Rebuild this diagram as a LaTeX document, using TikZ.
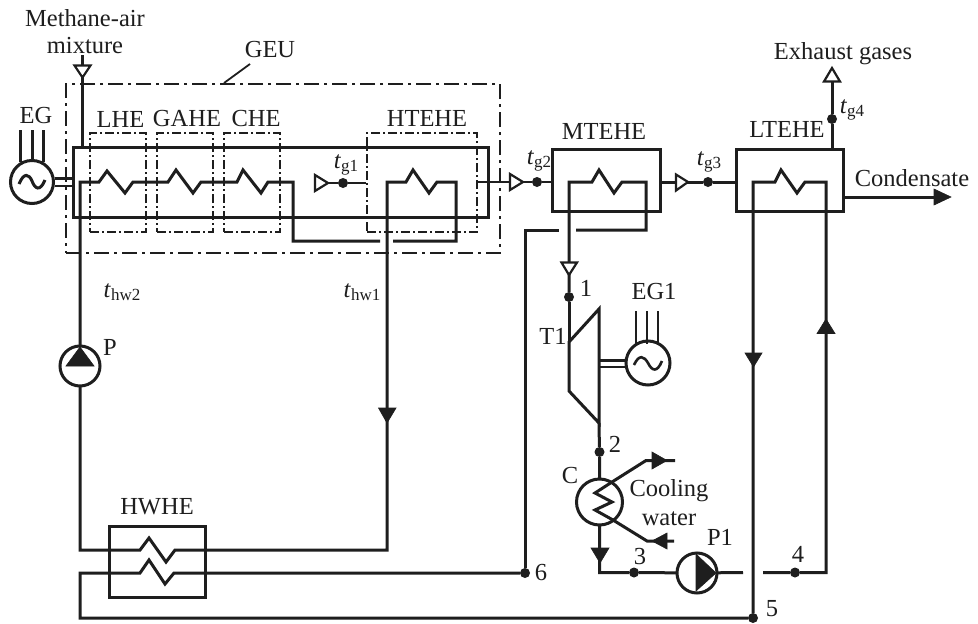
\documentclass[tikz,border=0pt]{standalone}
\usepackage{fontspec}
\setmainfont{Liberation Serif}
\newcommand\tsb[1]{\textit{t}\raisebox{-3.5pt}{\fontsize{17}{17}\selectfont #1}}
\tikzset{
  pipe/.style={line width=3pt,draw=ink,line join=miter},
  boxnode/.style={draw=ink,line width=3pt,fill=none,rectangle,inner sep=0pt},
  ddbox/.style={draw=ink,line width=1.5pt,rectangle,inner sep=0pt,dash pattern=on 9pt off 3pt on 2pt off 3pt},
  gebox/.style={draw=ink,line width=2pt,rectangle,inner sep=0pt,dash pattern=on 15pt off 5pt on 3pt off 5pt},
  dotn/.style={circle,fill=ink,draw=none,minimum size=10pt,inner sep=0pt},
  wheel/.style={circle,draw=ink,line width=3pt,fill=white,inner sep=0pt},
  lab/.style={inner sep=0pt,text=ink,font=\fontsize{24.5}{24.5}\selectfont},
  otri/.style={draw=ink,line width=2.2pt,fill=white,line join=miter},
  stri/.style={draw=ink,line width=0.6pt,fill=ink,line join=miter},
}
\definecolor{ink}{HTML}{1E1E1E}
\begin{document}
\begin{tikzpicture}[x=1pt,y=-1pt]
\useasboundingbox (0,0) rectangle (978,624);
\fill[white] (0,0) rectangle (978,624);
% named points
\node[gebox,minimum width=434pt,minimum height=169pt] (geu) at (283,168.5) {};
\node[boxnode,minimum width=415pt,minimum height=70pt] (mainb) at (280.5,182) {};
\node[boxnode,minimum width=108pt,minimum height=62pt] (mte) at (606,180) {};
\node[boxnode,minimum width=107pt,minimum height=62pt] (lte) at (789.5,180) {};
\node[boxnode,minimum width=96pt,minimum height=71pt] (hwb) at (157,561.5) {};
\node[ddbox,minimum width=56pt,minimum height=99pt] (lheb) at (118,182.5) {};
\node[ddbox,minimum width=56pt,minimum height=99pt] (gaheb) at (185,182.5) {};
\node[ddbox,minimum width=56pt,minimum height=99pt] (cheb) at (252,182.5) {};
\node[ddbox,minimum width=110pt,minimum height=99pt] (hteb) at (422,182.5) {};
\coordinate (geul) at (250,64);
\draw[line width=1.8pt,draw=ink] (geul) -- (224,83);
% dots
\node[dotn] (dg1) at (343,183) {};
\node[dotn] (dg2) at (537,182) {};
\node[dotn] (dg3) at (708,182) {};
\node[dotn] (dg4) at (832,119) {};
\node[dotn] (d1) at (569,297) {};
\node[dotn] (d2) at (599.5,452) {};
\node[dotn] (d3) at (634,572.5) {};
\node[dotn] (d4) at (795,572.5) {};
\node[dotn] (d5) at (753,618) {};
\node[dotn] (d6) at (525,573) {};
% machine positions
\coordinate (pc) at (80,366);
\coordinate (p1c) at (697,573);
\coordinate (cc) at (599.5,502);
% methane
\coordinate (mtop) at (82,55);
\draw[pipe] (mtop) -- (82,147);
\draw[otri] (74.5,65.5) -- (90.5,65.5) -- (82.5,77.5) -- cycle;
% gas line
\draw[pipe,line width=2.4pt] (316,183) -- (dg1) -- (366,183);
\draw[otri] (315,175) -- (315,191) -- (328,183) -- cycle;
\draw[pipe,line width=2.4pt] (hteb.east |- 0,182) -- (dg2) -- (mte.west |- 0,182);
\draw[otri] (510,174) -- (510,190) -- (523,182) -- cycle;
\draw[pipe] (mte.east |- 0,182) -- (dg3) -- (lte.west |- 0,182);
\draw[otri] (676,174.5) -- (676,190.5) -- (688,182) -- cycle;
% exhaust
\coordinate (extop) at (832,82);
\draw[pipe] (lte.north -| 832,0) -- (dg4) -- (extop);
\draw[otri] (824,81.5) -- (840,81.5) -- (832,68) -- cycle;
% condensate
\coordinate (condtip) at (936,197);
\draw[pipe] (843,197) -- (condtip);
\draw[stri] (934,189) -- (934,205) -- (951,197) -- cycle;
% hot-water coil in GEU
\draw[pipe] (pc) -- (80,182) -- (99,182) -- (107,171) -- (125,193) -- (133,182) -- (168,182) -- (176,170)
  -- (193,193) -- (201,182) -- (237,182) -- (243,170) -- (261,193) -- (268,182) -- (293,182) -- (293,241) -- (380,241);
\draw[pipe] (393,241) -- (456,241) -- (456,182) -- (437,182) -- (429,193) -- (413,170) -- (406,182) -- (387,182) -- (387,550)
  -- (175,550) -- (166,562) -- (149,538) -- (140,550) -- (80,550) -- (pc);
% HWHE lower coil and lines
\draw[pipe] (d5) -- (80,618) -- (80,573) -- (140,573) -- (149,560) -- (165,584) -- (174,573) -- (d6);
\draw[pipe] (d6) -- (525,230) -- (559,230);
\draw[pipe] (576,230) -- (646,230) -- (646,182) -- (622,182) -- (614,193) -- (599,170) -- (592,182) -- (569,182) -- (d1);
\draw[otri] (561.5,262.5) -- (577,262.5) -- (569,275) -- cycle;
% turbine
\draw[pipe,line join=miter] (569,342) -- (599,309) -- (599,423) -- (569,391) -- cycle;
\draw[pipe] (d1) -- (569,342);
\draw[pipe] (599,423) -- (d2) -- (cc);
% LTEHE coil
\draw[pipe] (d5) -- (753,182) -- (775,182) -- (781,170) -- (797,193) -- (805,182) -- (826,182) -- (826,572.5) -- (d4) -- (763,572.5);
\draw[stri] (745,353) -- (762,353) -- (753.5,367) -- cycle;
\draw[stri] (817,333.5) -- (835,333.5) -- (826,319) -- cycle;
\draw[stri] (378.5,408) -- (396,408) -- (387,423) -- cycle;
% condenser outlet
\draw[pipe] (cc) -- (599.5,572.5) -- (d3) -- (p1c);
\draw[pipe] (p1c) -- (743,572.5);
\draw[stri] (591,548) -- (609,548) -- (600,563) -- cycle;
% machines
\node[wheel,minimum size=40pt] (pump) at (pc) {};
\draw[stri] (66,366) -- (94,366) -- (80,347) -- cycle;
\node[wheel,minimum size=40pt] (pumpa) at (p1c) {};
\draw[stri] (696,554) -- (696,591) -- (716,573) -- cycle;
\node[wheel,minimum size=46pt] (cond) at (cc) {};
\coordinate (cwout) at (675,460.5);
\coordinate (cwin) at (674,541);
\draw[pipe] (cwout) -- (646,460.5) -- (612,482) -- (595,493) -- (612,502) -- (595,510) -- (613,520) -- (647,541) -- (cwin);
\draw[stri] (652,452) -- (652,469) -- (667,460.5) -- cycle;
\draw[stri] (667,533) -- (667,549) -- (652,541) -- cycle;
% generators
\node[wheel,minimum size=43pt] (eg) at (32,182) {};
\draw[line width=2.6pt,draw=ink] (eg.east |- 0,178.5) -- (mainb.west |- 0,178.5);
\draw[line width=2.6pt,draw=ink] (eg.east |- 0,186) -- (mainb.west |- 0,186);
\foreach \x in {20,32,43} \draw[line width=3pt,draw=ink] (\x,130) -- (\x,162);
\draw[line width=3pt,draw=ink] (19,184) .. controls (24,172) and (29,174) .. (32,181) .. controls (35,189) and (40,192) .. (45,180);
\node[wheel,minimum size=44pt] (ega) at (648,363) {};
\draw[line width=2.6pt,draw=ink] (599,360.5) -- (ega.west |- 0,360.5);
\draw[line width=2.6pt,draw=ink] (599,367) -- (ega.west |- 0,367);
\foreach \x in {636,647,658} \draw[line width=2.6pt,draw=ink] (\x,311) -- (\x,344);
\draw[line width=2.6pt,draw=ink] (634,365) .. controls (639,354) and (644,356) .. (648,363) .. controls (652,371) and (657,373) .. (662,361);
% labels
\node[lab] (tm) at (85,18) {Methane-air};
\node[lab] (tmx) at (85,46) {mixture};
\node[lab] (tgeu) at (270,50) {GEU};
\node[lab] (teg) at (36,116) {EG};
\node[lab] (tlhe) at (120.5,119) {LHE};
\node[lab] (tgahe) at (187,119) {GAHE};
\node[lab] (tche) at (256,119) {CHE};
\node[lab] (thte) at (427,118) {HTEHE};
\node[lab] (tmte) at (604,131) {MTEHE};
\node[lab] (tlte) at (787,129) {LTEHE};
\node[lab] (tex) at (843,54) {Exhaust gases};
\node[lab] (tcon) at (912,178) {Condensate};
\node[lab] (tg1) at (346,165) {\tsb{g1}};
\node[lab] (tg2) at (539,161) {\tsb{g2}};
\node[lab] (tg3) at (709,162) {\tsb{g3}};
\node[lab] (tg4) at (852,110) {\tsb{g4}};
\node[lab] (thw2) at (122,292) {\tsb{hw2}};
\node[lab] (thw1) at (362,292) {\tsb{hw1}};
\node[lab] (tp) at (110,347) {P};
\node[lab] (t1) at (586,288) {1};
\node[lab] (tega) at (654,292) {EG1};
\node[lab] (tt1) at (553,336) {T1};
\node[lab] (t2) at (615,444) {2};
\node[lab] (tc) at (570,476) {C};
\node[lab] (tcool) at (669,491) {Cooling};
\node[lab] (twat) at (669,519) {water};
\node[lab] (tpa) at (720,537) {P1};
\node[lab] (t3) at (640,557) {3};
\node[lab] (t4) at (798,554) {4};
\node[lab] (t5) at (772,609) {5};
\node[lab] (t6) at (541,573) {6};
\node[lab] (thw) at (157,507) {HWHE};
\end{tikzpicture}
\end{document}
